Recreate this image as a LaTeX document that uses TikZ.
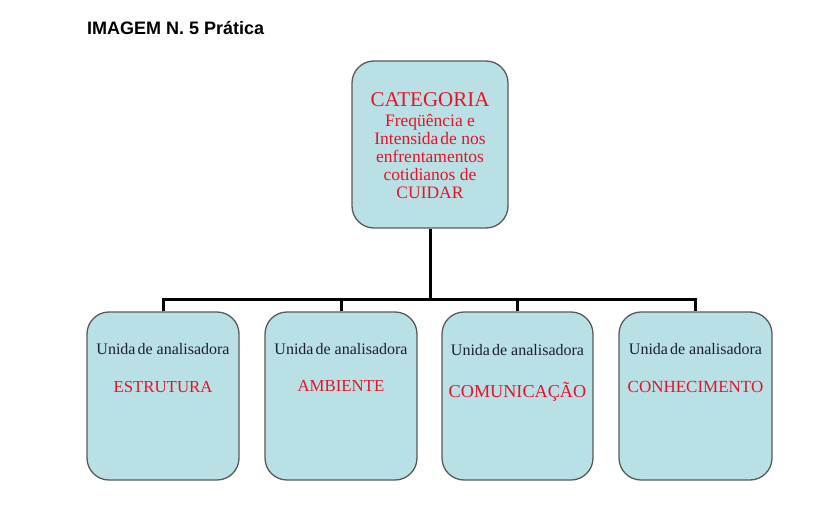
\documentclass[tikz,border=0pt]{standalone}
\usepackage{fontspec}
\setmainfont{Liberation Serif}
\newfontfamily\arialfont{Liberation Sans}
\definecolor{boxfill}{HTML}{B9E0E4}
\definecolor{boxline}{HTML}{5A5A5A}
\definecolor{redtxt}{HTML}{E3142A}
\definecolor{darktxt}{HTML}{1E1E32}
\begin{document}
\begin{tikzpicture}[x=1pt,y=-1pt,
  card/.style={draw=boxline, line width=1.3pt, fill=boxfill, rounded corners=22pt, inner sep=0pt},
  link/.style={draw=black, line width=3pt},
  redlbl/.style={text=redtxt, anchor=base, inner sep=0pt},
  unitlbl/.style={text=darktxt, anchor=base, inner sep=0pt, font=\fontsize{16}{16}\selectfont}]
\useasboundingbox[fill=white] (0,0) rectangle (822,508);
\node[anchor=base west, inner sep=0pt, font=\arialfont\bfseries\fontsize{18}{18}\selectfont] (title) at (87,35) {IMAGEM N. 5 Prática};
% boxes
\node[card, minimum width=156pt, minimum height=167pt] (top) at (430,144.5) {};
\node[card, minimum width=152pt, minimum height=168pt] (b1) at (163,396) {};
\node[card, minimum width=152pt, minimum height=168pt] (b2) at (341,396) {};
\node[card, minimum width=151pt, minimum height=168pt] (b3) at (517.5,396) {};
\node[card, minimum width=153pt, minimum height=168pt] (b4) at (695.5,396) {};
% connectors
\coordinate (j) at (430,299);
\draw[link] (top.south) -- (j);
\draw[link, line join=miter] (b1.north) |- (j) -| (b4.north);
\draw[link] (b2.north) -- (b2.north |- j);
\draw[link] (b3.north) -- (b3.north |- j);
% top text
\node[redlbl, font=\fontsize{21}{21}\selectfont] (t0) at (430,107) {CATEGORIA};
\node[redlbl, font=\fontsize{17.5}{17.5}\selectfont] (t1) at (430,127) {Freqüência e};
\node[redlbl, font=\fontsize{17.5}{17.5}\selectfont] (t2) at (430,145) {Intensida\kern2pt de nos};
\node[redlbl, font=\fontsize{17.5}{17.5}\selectfont] (t3) at (430,162) {enfrentamentos};
\node[redlbl, font=\fontsize{17.5}{17.5}\selectfont] (t4) at (430,180) {cotidianos de};
\node[redlbl, font=\fontsize{17.5}{17.5}\selectfont] (t5) at (430,198) {CUIDAR};
% unit text
\node[unitlbl] (u1) at (163,354) {Unida\kern2pt de analisadora};
\node[unitlbl] (u2) at (341,354) {Unida\kern2pt de analisadora};
\node[unitlbl] (u3) at (517.5,355) {Unida\kern2pt de analisadora};
\node[unitlbl] (u4) at (695.5,354) {Unida\kern2pt de analisadora};
\node[redlbl, font=\fontsize{16.8}{17}\selectfont] (n1) at (163,392) {ESTRUTURA};
\node[redlbl, font=\fontsize{16.8}{17}\selectfont] (n2) at (341,391) {AMBIENTE};
\node[redlbl, font=\fontsize{18.2}{18}\selectfont] (n3) at (517.5,397) {COMUNICAÇÃO};
\node[redlbl, font=\fontsize{17}{17}\selectfont] (n4) at (695.5,392) {CONHECIMENTO};
\end{tikzpicture}
\end{document}
